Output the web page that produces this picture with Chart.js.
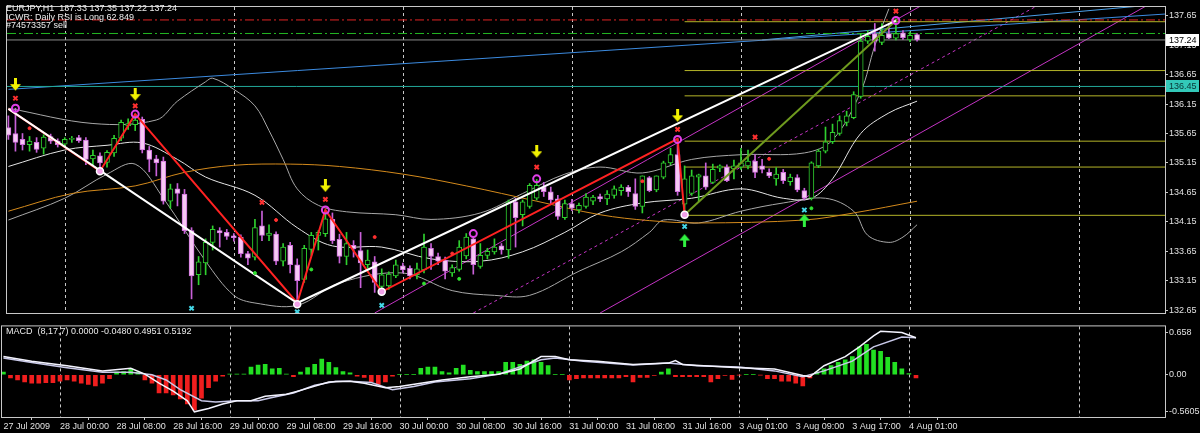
<!DOCTYPE html>
<html>
<head>
<meta charset="utf-8">
<script src="https://cdn.jsdelivr.net/npm/chart.js@4.4.1/dist/chart.umd.min.js"></script>
<style>
body{margin:0;background:#000;width:1200px;height:433px;overflow:hidden;position:relative;font-family:"Liberation Sans",Arial,sans-serif}
canvas{position:absolute;left:0}
#main{top:0}
#macd{top:320px}
.lbl{position:absolute;color:#ececec;font-size:9px;white-space:pre;line-height:9px}
</style>
</head>
<body>
<canvas id="main" width="1200" height="320"></canvas>
<canvas id="macd" width="1200" height="113"></canvas>
<div class="lbl" style="left:6px;top:4px">EURJPY,H1  137.33 137.35 137.22 137.24</div>
<div class="lbl" style="left:6px;top:13px">ICWR: Daily RSI is Long 62.849</div>
<div class="lbl" style="left:6px;top:21px">#74573357 sell</div>
<div class="lbl" style="left:6px;top:327px">MACD  (8,17,7) 0.0000 -0.0480 0.4951 0.5192</div>
<script>
//--Datos del grafico (indice de barra H1, precio)----------------------------
var tickIdx = [0,8,16,24,32,40,48,56,64,72,80,88,96,104,112,120,128];
var tickLabels = ['27 Jul 2009','28 Jul 00:00','28 Jul 08:00','28 Jul 16:00','29 Jul 00:00','29 Jul 08:00','29 Jul 16:00',
    '30 Jul 00:00','30 Jul 08:00','30 Jul 16:00','31 Jul 00:00','31 Jul 08:00','31 Jul 16:00','3 Aug 01:00','3 Aug 09:00','3 Aug 17:00','4 Aug 01:00'];
var dayStarts = [8,32,56,80,104,128,152];
var priceTicks = [132.65,133.15,133.65,134.15,134.65,135.15,135.65,136.15,136.65,137.15,137.65];
var macdTicks = [0.658, 0, -0.5605];
var macdTickText = ['0.658','0.00','-0.5605'];

var openP = [135.75,135.65,135.55,135.46,135.50,135.40,135.60,135.52,135.47,135.55,
    135.58,135.54,135.22,135.27,135.16,135.32,135.57,135.78,135.80,135.89,
    135.37,135.22,135.18,134.50,134.71,134.62,134.00,133.25,133.45,133.80,
    134.00,133.97,133.91,133.89,133.61,133.55,134.08,133.92,133.94,133.48,
    133.75,133.42,133.17,133.68,133.92,133.95,134.19,133.85,133.56,133.75,
    133.66,133.42,133.47,133.05,133.06,133.23,133.40,133.36,133.25,133.33,
    133.70,133.56,133.50,133.28,133.34,133.57,133.86,133.39,133.58,133.64,
    133.74,133.67,134.49,134.27,134.41,134.55,134.74,134.66,134.54,134.22,
    134.46,134.35,134.41,134.50,134.58,134.54,134.60,134.68,134.74,134.63,
    134.41,134.90,134.69,134.91,135.15,135.29,134.45,134.63,134.91,134.93,
    134.82,135.06,135.08,135.05,135.08,135.10,135.18,135.10,134.99,134.88,
    134.99,134.83,134.90,134.68,134.55,135.10,135.35,135.51,135.65,135.84,
    135.92,136.28,137.22,137.35,137.20,137.35,137.27,137.36,137.24,137.33];
var highP = [135.95,136.08,135.65,135.60,135.58,135.63,135.64,135.56,135.58,135.60,
    135.62,135.58,135.37,135.32,135.36,135.62,135.88,135.90,135.98,135.93,
    135.43,135.28,135.25,134.79,134.80,134.70,134.05,133.56,133.86,134.08,
    134.05,134.02,133.95,133.93,133.65,134.19,134.33,134.10,133.98,133.78,
    133.80,133.52,133.75,133.97,134.00,134.35,134.30,133.94,133.97,133.83,
    133.97,133.67,133.56,133.35,133.30,133.50,133.45,133.40,133.45,133.94,
    133.78,133.62,133.55,133.42,133.83,133.95,133.89,133.78,133.70,133.86,
    133.78,134.52,134.55,134.52,134.80,134.87,134.82,134.74,134.60,134.52,
    134.53,134.47,134.63,134.60,134.62,134.68,134.76,134.78,134.77,134.88,
    134.93,134.92,134.93,135.18,135.40,135.56,135.10,135.03,134.96,135.15,
    135.13,135.12,135.12,135.20,135.40,135.37,135.29,135.21,135.05,135.07,
    135.04,134.96,134.95,134.72,135.17,135.38,135.76,135.81,135.95,136.03,
    136.36,137.35,137.40,137.52,137.52,137.52,137.60,137.40,137.38,137.35];
var lowP = [135.55,135.35,135.37,135.35,135.33,135.30,135.48,135.42,135.42,135.50,
    135.50,135.12,135.12,135.01,135.08,135.26,135.53,135.72,135.70,135.32,
    135.00,134.93,134.45,134.38,134.42,133.95,132.84,133.08,133.25,133.67,
    133.72,133.85,133.82,133.55,133.42,133.50,133.83,133.83,133.42,133.40,
    133.28,132.77,133.12,133.58,133.67,133.90,133.78,133.45,133.42,133.55,
    133.03,133.36,132.95,132.96,133.00,133.20,133.28,133.18,133.18,133.28,
    133.34,133.42,133.18,133.22,133.31,133.52,133.26,133.36,133.52,133.60,
    133.60,133.53,133.72,134.08,134.38,134.52,134.58,134.46,134.19,134.19,
    134.34,134.30,134.38,134.44,134.49,134.44,134.55,134.60,134.58,134.36,
    134.30,134.66,134.66,134.88,135.12,134.60,134.27,134.60,134.49,134.70,
    134.80,135.00,134.83,134.88,135.04,135.05,134.90,134.98,134.90,134.77,
    134.80,134.77,134.66,134.52,134.52,135.07,135.32,135.48,135.62,135.78,
    135.90,136.25,137.18,137.05,137.16,137.26,137.24,137.25,137.21,137.22];
var closeP = [135.62,135.50,135.46,135.52,135.38,135.59,135.52,135.46,135.55,135.57,
    135.53,135.21,135.28,135.15,135.33,135.57,135.84,135.82,135.88,135.37,
    135.21,135.15,134.50,134.71,134.63,134.00,133.23,133.47,133.80,134.02,
    133.96,133.90,133.88,133.61,133.53,134.05,133.92,133.96,133.48,133.72,
    133.42,133.15,133.70,133.92,133.97,134.20,133.83,133.56,133.78,133.69,
    133.45,133.50,133.12,133.25,133.26,133.42,133.33,133.23,133.35,133.72,
    133.56,133.48,133.31,133.37,133.72,133.89,133.42,133.58,133.65,133.72,
    133.67,134.49,134.22,134.49,134.77,134.77,134.66,134.52,134.24,134.46,
    134.38,134.43,134.57,134.57,134.54,134.62,134.71,134.74,134.66,134.41,
    134.93,134.68,134.93,135.15,135.29,134.66,134.88,134.93,134.95,134.74,
    135.04,135.10,134.85,135.10,135.15,135.18,134.99,135.04,134.93,134.96,
    134.85,134.91,134.69,134.55,135.15,135.35,135.51,135.67,135.87,135.95,
    136.31,137.22,137.30,137.22,137.32,137.27,137.35,137.28,137.32,137.24];

// bandas y medias [barra, precio]
var upperBand = [[0,136.08],[12,135.82],[21,135.88],[24,136.20],[28,136.53],[29,136.59],[32,136.40],[35,136.12],[37,135.70],
    [39,135.21],[41,134.71],[44,134.43],[48,134.32],[55,134.27],[60,134.19],[67,134.30],[73,134.63],[79,134.96],[84,135.08],
    [90,134.98],[97,135.21],[104,135.29],[113,135.32],[117,135.54],[121,136.36],[123,137.14],[125,137.77]];
var middleBand = [[0,135.09],[8,135.37],[14,135.45],[19,135.49],[24,135.21],[28,134.91],[35,134.60],[41,134.05],[46,133.74],
    [53,133.72],[60,133.52],[67,133.48],[73,133.64],[79,133.97],[84,134.30],[90,134.47],[97,134.55],[104,134.71],[110,134.55],
    [114,134.55],[117,134.88],[121,135.65],[125,136.00],[129,136.20]];
var lowerBand = [[0,134.18],[8,134.55],[14,134.96],[18,135.13],[22,134.55],[28,133.48],[32,132.90],[35,132.77],[41,132.73],
    [47,133.11],[56,133.28],[63,132.98],[69,132.90],[74,132.90],[81,133.31],[87,133.64],[91,133.97],[93,134.18],[98,134.13],
    [104,134.33],[110,134.47],[116,134.55],[120,134.33],[122,133.92],[125,133.80],[127,133.89],[129,134.10]];
var slowMA = [[0,134.33],[9,134.63],[18,134.76],[25,134.99],[32,135.11],[40,135.13],[47,135.09],[56,134.96],[65,134.76],
    [75,134.50],[84,134.27],[91,134.17],[98,134.13],[113,134.18],[120,134.30],[129,134.50]];

// zigzag y lineas de tendencia
var zigzagSmall = [[0,136.07],[13,135.01],[18,135.98],[41,132.77],[45,134.35],[53,132.96],[95,135.56],[96,134.27]];
var zigzagBig = [[0,136.07],[41,132.77],[126,137.57]];
var swingUp = [[96,134.27],[126,137.57]];
var blueTrend = [[0,136.40],[164.2,137.68]];
var blueTrend2 = [[107,137.24],[161,137.82]];
var chanTop = [[52,132.60],[130,137.85]];
var chanMid = [[66,132.60],[146.5,137.85]];
var chanLow = [[84,132.60],[162,137.85]];

// niveles horizontales
var fibStart = 96;
var fibLevels = [137.55,136.72,136.29,135.52,135.08,134.26];
var redLevel = 137.58;
var greenLevel = 137.35;
var bidPrice = 137.24;
var tealLevel = 136.45;

// marcas de senales
var yellowArrows = [[1,136.48],[18,136.31],[45,134.76],[75,135.34],[95,135.95]];
var redCrosses = [[1,136.25],[18,136.12],[45,134.53],[75,135.08],[95,135.72],[36,134.48],[106,135.59],[126,137.73]];
var pinkCircles = [[1,136.08],[18,135.98],[45,134.35],[75,134.88],[95,135.55],[126,137.57],[66,133.95]];
var whiteCircles = [[13,135.01],[41,132.75],[53,132.96],[96,134.27]];
var cyanCrosses = [[26,132.68],[41,132.62],[53,132.73],[96,134.07],[113,134.35]];
var greenArrows = [[96,133.84],[113,134.18]];
var redDots = [[3,135.74],[38,134.18],[52,133.89],[63,133.61],[90,134.84],[108,135.22]];
var greenDots = [[35,133.28],[43,133.34],[59,133.10],[64,133.18],[114,134.38]];

// MACD
var macdHist = [0.04,-0.05,-0.08,-0.11,-0.13,-0.13,-0.12,-0.12,-0.10,-0.08,
    -0.10,-0.13,-0.15,-0.17,-0.13,-0.06,0.04,0.05,0.09,0.04,
    -0.08,-0.13,-0.28,-0.28,-0.31,-0.37,-0.45,-0.54,-0.36,-0.20,
    -0.10,-0.02,0.01,0.01,0.01,0.12,0.15,0.16,0.09,0.10,
    0.01,-0.03,0.04,0.11,0.16,0.24,0.19,0.11,0.05,0.03,
    -0.02,-0.04,-0.11,-0.15,-0.11,-0.02,0.005,0.005,0.005,0.10,
    0.12,0.12,0.05,0.03,0.10,0.15,0.07,0.05,0.05,0.05,
    0.05,0.19,0.19,0.16,0.21,0.23,0.19,0.14,0.005,0.005,
    -0.08,-0.06,-0.05,-0.05,-0.05,-0.05,-0.05,-0.05,-0.03,-0.11,
    -0.04,-0.04,-0.01,0.04,0.09,-0.03,-0.03,-0.03,-0.03,-0.03,
    -0.11,-0.06,-0.01,-0.07,-0.005,0.005,0.005,-0.005,-0.06,-0.06,
    -0.10,-0.10,-0.13,-0.17,-0.05,0.04,0.09,0.14,0.19,0.23,
    0.28,0.43,0.47,0.38,0.36,0.27,0.19,0.09,0.02,-0.048];
var macdMain = [[0,0.28],[4,0.21],[9,0.14],[14,0.06],[18,0.10],[20,0.01],[22,-0.13],[24,-0.25],[26,-0.40],[27,-0.57],
    [29,-0.52],[31,-0.45],[33,-0.40],[35,-0.40],[37,-0.33],[40,-0.30],[42,-0.24],[46,-0.11],[49,-0.10],[51,-0.13],
    [54,-0.20],[56,-0.18],[59,-0.13],[62,-0.08],[66,-0.03],[70,0.01],[73,0.09],[76,0.28],[78,0.28],[80,0.23],
    [84,0.21],[89,0.16],[94,0.18],[95,0.22],[96,0.16],[99,0.14],[104,0.11],[109,0.09],[113,-0.01],[114,-0.03],
    [116,0.14],[119,0.28],[121,0.43],[123,0.60],[124,0.67],[127,0.65],[129,0.57]];
var macdSignal = [[0,0.26],[4,0.19],[9,0.11],[14,0.04],[18,0.04],[21,0.00],[23,-0.08],[25,-0.23],[28,-0.40],[30,-0.42],
    [33,-0.40],[36,-0.40],[38,-0.35],[41,-0.28],[44,-0.16],[47,-0.10],[49,-0.10],[52,-0.12],[55,-0.23],[58,-0.18],
    [61,-0.11],[66,-0.06],[70,0.01],[76,0.23],[78,0.26],[82,0.21],[89,0.15],[94,0.18],[98,0.14],[104,0.12],
    [109,0.06],[113,-0.03],[116,0.06],[120,0.21],[123,0.43],[127,0.58],[129,0.57]];

//--Ajustes generales----------------------------
var xMin = -0.2, xMax = 164.2;
Chart.defaults.font.family = '"Liberation Sans", Arial, sans-serif';
Chart.defaults.font.size = 9;
Chart.defaults.color = '#e0e0e0';

function pts(arr){ return arr.map(function(p){ return {x: p[0], y: p[1]}; }); }
function lineDS(arr, color, width, dash, order){
    return {type: 'line', data: pts(arr), borderColor: color, borderWidth: width, borderDash: dash || [],
        pointRadius: 0, fill: false, tension: 0, order: order};
}
function curveDS(arr, color, order){
    var d = lineDS(arr, color, 1, null, order);
    d.tension = 0.35;
    return d;
}
function hLine(p, from, color, dash, order){
    return lineDS([[from, p], [xMax, p]], color, 1, dash, order);
}
function marks(arr, style, color, radius, width, fillColor, order){
    return {type: 'scatter', data: pts(arr), pointStyle: style, pointRadius: radius, borderColor: color,
        backgroundColor: fillColor || color, pointBorderWidth: width, order: order};
}
function arrowImg(color, down){
    var c = document.createElement('canvas');
    c.width = 11; c.height = 13;
    var g = c.getContext('2d');
    if(!down){ g.translate(0, 13); g.scale(1, -1); }
    g.fillStyle = color;
    g.fillRect(4, 0, 3, 7);
    g.beginPath(); g.moveTo(0, 6); g.lineTo(11, 6); g.lineTo(5.5, 12.5); g.closePath(); g.fill();
    return c;
}

var gridPlugin = {
    id: 'dayGrid',
    beforeDatasetsDraw: function(chart){
        var ctx = chart.ctx, a = chart.chartArea, x = chart.scales.x;
        ctx.save();
        ctx.strokeStyle = '#c8c8c8'; ctx.lineWidth = 1; ctx.setLineDash([3, 3]);
        dayStarts.forEach(function(d){
            var px = Math.round(x.getPixelForValue(d)) + 0.5;
            ctx.beginPath(); ctx.moveTo(px, a.top); ctx.lineTo(px, a.bottom); ctx.stroke();
        });
        ctx.restore();
    },
    afterDraw: function(chart){
        var ctx = chart.ctx, a = chart.chartArea;
        ctx.save();
        ctx.strokeStyle = '#c8c8c8'; ctx.lineWidth = 1;
        ctx.strokeRect(a.left - 0.5, a.top - 0.5, a.right - a.left + 1, a.bottom - a.top + 1);
        ctx.restore();
    }
};

var tagPlugin = {
    id: 'priceTags',
    afterDraw: function(chart){
        var ctx = chart.ctx, y = chart.scales.y, a = chart.chartArea;
        [[bidPrice, '#ffffff', '#000000'], [tealLevel, '#33c9b9', '#0a3434']].forEach(function(t){
            var py = Math.round(y.getPixelForValue(t[0]));
            ctx.save();
            ctx.fillStyle = t[1];
            ctx.fillRect(a.right + 1, py - 6, 33, 12);
            ctx.fillStyle = t[2];
            ctx.font = '9px "Liberation Sans", Arial, sans-serif';
            ctx.textBaseline = 'middle';
            ctx.fillText(t[0].toFixed(2), a.right + 4, py + 0.5);
            ctx.restore();
        });
    }
};

//--Grafico principal (velas + indicadores)----------------------------
function PlotMainChart(ctx){
    var bull = closeP.map(function(c, i){ return c >= openP[i]; });
    var wicks = lowP.map(function(l, i){ return {x: i, y: [l, highP[i]]}; });
    var bodies = openP.map(function(o, i){
        var lo = Math.min(o, closeP[i]), hi = Math.max(o, closeP[i]);
        return {x: i, y: [lo, Math.max(hi, lo + 0.012)]};
    });
    var fibLines = fibLevels.map(function(p){ return hLine(p, fibStart, '#b4b428', null, 8); });

    var datasets = [
        hLine(redLevel, xMin, '#e02424', [9, 3, 2, 3], 9),
        hLine(greenLevel, xMin, '#22b822', [9, 3, 2, 3], 9),
        hLine(bidPrice, xMin, '#8a8a8a', null, 9),
        hLine(tealLevel, xMin, '#22a89a', null, 9),
        lineDS(blueTrend, '#3c8be0', 1, null, 9),
        lineDS(blueTrend2, '#4aa0e8', 1, null, 9),
        lineDS(chanTop, '#c434c4', 1, null, 9),
        lineDS(chanMid, '#c434c4', 1, [3, 3], 9),
        lineDS(chanLow, '#c434c4', 1, null, 9),
        curveDS(slowMA, '#d48a1c', 7),
        curveDS(upperBand, '#a8a8a8', 7),
        curveDS(middleBand, '#e4e4e4', 7),
        curveDS(lowerBand, '#a8a8a8', 7),
        {type: 'bar', data: wicks, grouped: false, barThickness: 1, order: 6,
            backgroundColor: bull.map(function(b){ return b ? '#2fd02f' : '#c860d8'; })},
        {type: 'bar', data: bodies, grouped: false, barThickness: 5, order: 5, borderWidth: 1, borderSkipped: false,
            backgroundColor: bull.map(function(b){ return b ? '#000000' : '#f6c8f4'; }),
            borderColor: bull.map(function(b){ return b ? '#2fd02f' : '#d070dc'; })},
        lineDS(swingUp, '#6e9a1e', 2, null, 4),
        lineDS(zigzagSmall, '#ff2222', 2, null, 3),
        lineDS(zigzagBig, '#ffffff', 2, null, 2),
        marks(redDots, 'circle', '#ff3030', 1.5, 1, null, 1),
        marks(greenDots, 'circle', '#30e030', 1.5, 1, null, 1),
        marks(redCrosses, 'crossRot', '#ff3030', 3, 2, null, 1),
        marks(cyanCrosses, 'crossRot', '#44d8e8', 3, 2, null, 1),
        marks(pinkCircles, 'circle', '#e040e8', 3.5, 2, 'rgba(0,0,0,0)', 1),
        marks(whiteCircles, 'circle', '#ffffff', 3.5, 1.5, '#f0a0e8', 1),
        marks(yellowArrows, arrowImg('#f2f200', true), '#f2f200', 6, 1, null, 1),
        marks(greenArrows, arrowImg('#30f040', false), '#30f040', 6, 1, null, 1)
    ].concat(fibLines);

    return new Chart(ctx, {
        type: 'bar',
        data: {datasets: datasets},
        plugins: [gridPlugin, tagPlugin],
        options: {
            responsive: false, animation: false, events: [],
            layout: {padding: {top: 3, bottom: 2, left: 2, right: 0}},
            plugins: {legend: {display: false}, tooltip: {enabled: false}},
            scales: {
                x: {type: 'linear', min: xMin, max: xMax, offset: false, display: false},
                y: {
                    type: 'linear', position: 'right', min: 132.60, max: 137.80,
                    afterBuildTicks: function(s){ s.ticks = priceTicks.map(function(v){ return {value: v}; }); },
                    afterFit: function(s){ s.width = 35; },
                    ticks: {color: '#e0e0e0', padding: 1, callback: function(v){ return v.toFixed(2); }},
                    grid: {drawOnChartArea: false, drawTicks: true, tickLength: 3, color: '#c8c8c8'},
                    border: {display: true, color: '#c8c8c8'}
                }
            }
        }
    });
};

//--Panel MACD----------------------------
function PlotMacdChart(ctx2){
    var hist = macdHist.map(function(v, i){ return {x: i, y: v}; });
    return new Chart(ctx2, {
        type: 'bar',
        data: {datasets: [
            lineDS(macdMain, '#f4f4ff', 1.5, null, 1),
            lineDS(macdSignal, '#c8c8e8', 1.5, null, 2),
            {type: 'bar', data: hist, barThickness: 4, order: 3,
                backgroundColor: macdHist.map(function(v){ return v >= 0 ? '#22e022' : '#f01e1e'; })}
        ]},
        plugins: [gridPlugin],
        options: {
            responsive: false, animation: false, events: [],
            layout: {padding: {top: 2, bottom: 0, left: 2, right: 0}},
            plugins: {legend: {display: false}, tooltip: {enabled: false}},
            scales: {
                x: {
                    type: 'linear', min: xMin, max: xMax, offset: false,
                    afterBuildTicks: function(s){ s.ticks = tickIdx.map(function(v){ return {value: v}; }); },
                    afterFit: function(s){ s.height = 16; },
                    ticks: {autoSkip: false, maxRotation: 0, align: 'start', padding: 1, color: '#e0e0e0',
                        callback: function(v, i){ return tickLabels[i]; }},
                    grid: {drawOnChartArea: false, drawTicks: true, tickLength: 3, color: '#c8c8c8'},
                    border: {display: true, color: '#c8c8c8'}
                },
                y: {
                    type: 'linear', position: 'right', min: -0.65, max: 0.745,
                    afterBuildTicks: function(s){ s.ticks = macdTicks.map(function(v){ return {value: v}; }); },
                    afterFit: function(s){ s.width = 35; },
                    ticks: {color: '#e0e0e0', padding: 1, callback: function(v, i){ return macdTickText[i]; }},
                    grid: {drawOnChartArea: false, drawTicks: true, tickLength: 3, color: '#c8c8c8'},
                    border: {display: true, color: '#c8c8c8'}
                }
            }
        }
    });
};

PlotMainChart(document.getElementById('main').getContext('2d'));
PlotMacdChart(document.getElementById('macd').getContext('2d'));
</script>
</body>
</html>
